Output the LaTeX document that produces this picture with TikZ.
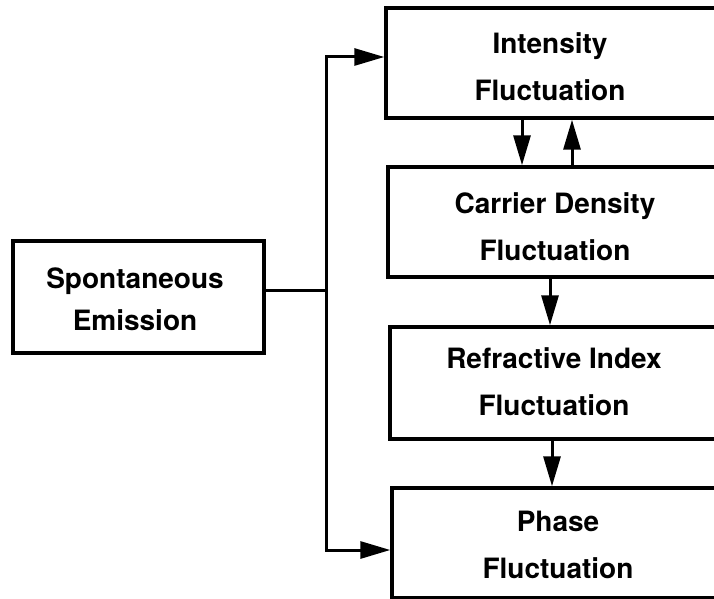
\documentclass[tikz,border=0pt]{standalone}
\usepackage{fontspec}
\setmainfont{TeX Gyre Heros}
\usetikzlibrary{arrows.meta}
\begin{document}
\begin{tikzpicture}[x=1pt,y=-1pt,
  box/.style={draw,line width=3.4pt,minimum width=#1,inner sep=0pt,rectangle},
  lbl/.style={align=center,inner sep=0pt,font=\fontsize{28pt}{47pt}\selectfont\bfseries},
  conn/.style={line width=3pt},
  arr/.style={conn,-{Triangle[length=30pt,width=17pt]}}]
  \useasboundingbox (0,0) rectangle (714,599);
  \clip (0,0) rectangle (714,599);

  % boxes
  \node[box=251pt,minimum height=112pt] (sp) at (138.5,297) {};
  \node[box=332pt,minimum height=110pt] (in) at (552,63) {};
  \node[box=330pt,minimum height=110pt] (cd) at (553,222) {};
  \node[box=328pt,minimum height=112pt] (ri) at (554,383) {};
  \node[box=326pt,minimum height=110pt] (ph) at (555,543) {};

  % labels
  \node[lbl,font=\fontsize{28pt}{42pt}\selectfont\bfseries] (spt) at (135,299) {Spontaneous\\Emission};
  \node[lbl] (int) at (550,66.5) {Intensity\\Fluctuation};
  \node[lbl] (cdt) at (555,226.5) {Carrier Density\\Fluctuation};
  \node[lbl] (rit) at (554,382) {Refractive Index\\Fluctuation};
  \node[lbl] (pht) at (558,545) {Phase\\Fluctuation};

  % branching feed from spontaneous emission
  \coordinate (j) at (326,290);
  \coordinate (tp) at (326,57);
  \coordinate (bt) at (326,550);
  \draw[conn] (j -| sp.east) -- (j);
  \draw[arr] (j) -- (tp) -- (tp -| in.west);
  \draw[arr] (j) -- (bt) -- (bt -| ph.west);

  % couplings between the fluctuations
  \coordinate (xa) at (522,140);
  \coordinate (xb) at (572,140);
  \coordinate (xc) at (550,300);
  \coordinate (xd) at (552,460);
  \draw[arr] (in.south -| xa) -- (cd.north -| xa);
  \draw[arr] (cd.north -| xb) -- (in.south -| xb);
  \draw[arr] (cd.south -| xc) -- (ri.north -| xc);
  \draw[arr] (ri.south -| xd) -- (ph.north -| xd);
\end{tikzpicture}
\end{document}
